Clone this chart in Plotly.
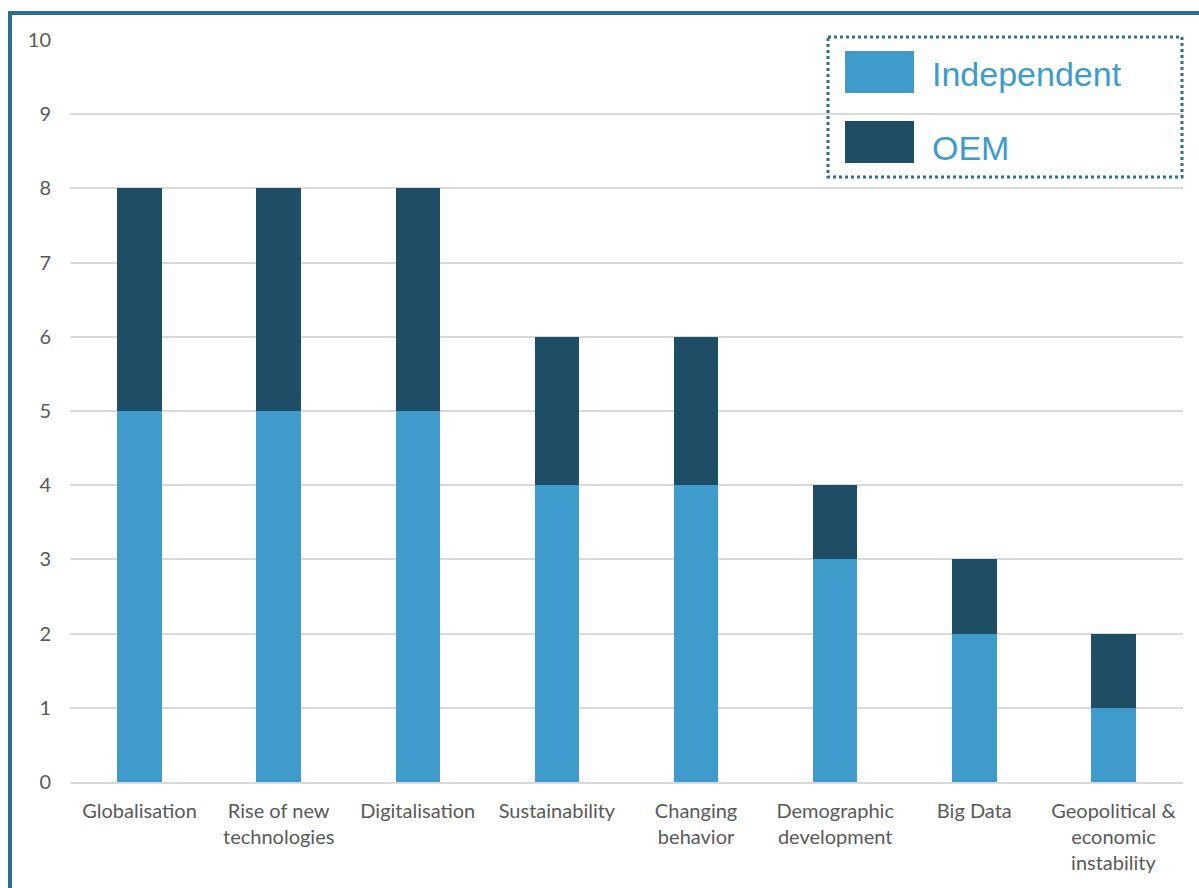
import plotly.graph_objects as go

categories = ["Globalisation", "Rise of new<br>technologies", "Digitalisation", "Sustainability",
              "Changing<br>behavior", "Demographic<br>development", "Big Data",
              "Geopolitical &<br>economic<br>instability"]
independent = [5, 5, 5, 4, 4, 3, 2, 1]
oem = [3, 3, 3, 2, 2, 1, 1, 1]
y_ticks = list(range(0, 11))

C_IND = "#3F9BCB"
C_OEM = "#1E4E66"
C_BORDER = "#2E6E8E"

W, H = 1199, 888
L, R, T, B = 70, 16, 40, 106
PW, PH = W - L - R, H - T - B

def px(x):
    return (x - L) / PW

def py(y):
    return (H - B - y) / PH

fig = go.Figure()
fig.add_trace(go.Bar(x=categories, y=independent, name="Independent", marker_color=C_IND,
                     marker_line_width=0, width=0.32))
fig.add_trace(go.Bar(x=categories, y=oem, name="OEM", marker_color=C_OEM,
                     marker_line_width=0, width=0.32))

shapes = [
    # frame (left and top)
    dict(type="line", xref="paper", yref="paper", x0=px(10), x1=px(10), y0=py(12), y1=py(900),
         line=dict(color=C_BORDER, width=4)),
    dict(type="line", xref="paper", yref="paper", x0=px(8), x1=px(1210), y0=py(13), y1=py(13),
         line=dict(color=C_BORDER, width=4)),
    # legend box
    dict(type="rect", xref="paper", yref="paper", x0=px(828), x1=px(1182), y0=py(37), y1=py(177),
         line=dict(color=C_BORDER, width=3, dash="dot"), fillcolor="rgba(0,0,0,0)"),
    dict(type="rect", xref="paper", yref="paper", x0=px(845), x1=px(914), y0=py(51), y1=py(93),
         line=dict(width=0), fillcolor=C_IND),
    dict(type="rect", xref="paper", yref="paper", x0=px(845), x1=px(914), y0=py(121), y1=py(163),
         line=dict(width=0), fillcolor=C_OEM),
]

annotations = [
    dict(text="Independent", xref="paper", yref="paper", x=px(930), y=py(74), xanchor="left",
         yanchor="middle", showarrow=False, font=dict(family="Liberation Sans", size=34, color=C_IND)),
    dict(text="OEM", xref="paper", yref="paper", x=px(930), y=py(148), xanchor="left",
         yanchor="middle", showarrow=False, font=dict(family="Liberation Sans", size=34, color=C_IND)),
]

fig.update_layout(
    width=W, height=H,
    margin=dict(l=L, r=R, t=T, b=B),
    barmode="stack",
    showlegend=False,
    plot_bgcolor="white", paper_bgcolor="white",
    font=dict(family="Lato", size=20, color="#595959"),
    shapes=shapes,
    annotations=annotations,
)
fig.update_xaxes(showgrid=False, showline=True, linecolor="#D9D9D9", linewidth=2,
                 ticks="", tickfont=dict(size=20, color="#595959"), ticklabelstandoff=10,
                 fixedrange=True)
fig.update_yaxes(range=[0, 10], tickvals=y_ticks, showgrid=True, gridcolor="#D9D9D9", gridwidth=1.5,
                 zeroline=False, showline=False, ticks="", ticklabelstandoff=18,
                 tickfont=dict(size=20, color="#595959"))

fig.write_html("out.html")
